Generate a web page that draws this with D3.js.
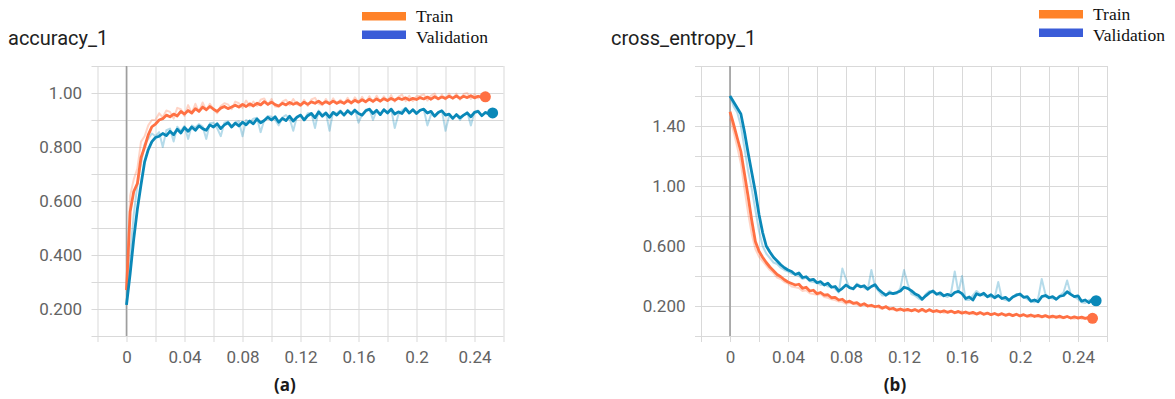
<!DOCTYPE html>
<html>
<head>
<meta charset="utf-8">
<script src="https://cdn.jsdelivr.net/npm/d3@7"></script>
<style>
  html, body { margin: 0; padding: 0; background: #fff; }
  svg { display: block; }
  .tick text { font-family: Roboto, "Open Sans", sans-serif; font-size: 17px; fill: #636363; }
</style>
</head>
<body>
<div id="chart"></div>
<script>
// steps are logged every 0.0025 (x axis)
const STEP = 0.0025;

// (a) accuracy_1
const accTrain = [
  0.27, 0.56, 0.635, 0.665, 0.76, 0.80, 0.845, 0.875, 0.885, 0.90,
  0.905, 0.918, 0.912, 0.922, 0.915, 0.932, 0.922, 0.935, 0.926, 0.942,
  0.932, 0.948, 0.938, 0.95, 0.94, 0.932, 0.944, 0.95, 0.942, 0.948,
  0.955, 0.948, 0.958, 0.95, 0.96, 0.952, 0.962, 0.956, 0.968, 0.958,
  0.966, 0.957, 0.952, 0.962, 0.956, 0.965, 0.958, 0.964, 0.955, 0.966,
  0.958, 0.967, 0.962, 0.97, 0.96, 0.968, 0.961, 0.97, 0.962, 0.968,
  0.962, 0.972, 0.964, 0.973, 0.966, 0.975, 0.968, 0.977, 0.969, 0.978,
  0.97, 0.979, 0.972, 0.98, 0.973, 0.981, 0.976, 0.982, 0.974, 0.98,
  0.976, 0.983, 0.978, 0.985, 0.977, 0.986, 0.979, 0.985, 0.98, 0.988,
  0.981, 0.989, 0.98, 0.988, 0.983, 0.99, 0.982, 0.988, 0.984, 0.986
];
const accTrainRaw = [
  0.27, 0.62, 0.68, 0.72, 0.82, 0.84, 0.88, 0.9, 0.9, 0.925,
  0.91, 0.935, 0.93, 0.905, 0.945, 0.94, 0.915, 0.955, 0.925, 0.96,
  0.93, 0.965, 0.935, 0.96, 0.94, 0.925, 0.952, 0.962, 0.958, 0.94,
  0.968, 0.962, 0.945, 0.972, 0.95, 0.968, 0.952, 0.975, 0.98, 0.955,
  0.978, 0.95, 0.948, 0.968, 0.975, 0.955, 0.978, 0.958, 0.952, 0.975,
  0.952, 0.976, 0.982, 0.96, 0.955, 0.978, 0.958, 0.98, 0.96, 0.975,
  0.96, 0.982, 0.96, 0.984, 0.965, 0.986, 0.964, 0.988, 0.966, 0.99,
  0.968, 0.988, 0.97, 0.992, 0.968, 0.986, 0.994, 0.97, 0.99, 0.97,
  0.988, 0.99, 0.995, 0.972, 0.99, 0.998, 0.975, 0.994, 0.976, 0.998,
  0.978, 0.998, 0.975, 0.996, 1.0, 0.978, 0.996, 0.98, 0.998, 0.99
];
const accVal = [
  0.215, 0.33, 0.46, 0.57, 0.66, 0.745, 0.79, 0.82, 0.835, 0.84,
  0.85, 0.842, 0.858, 0.845, 0.866, 0.852, 0.872, 0.858, 0.874, 0.862,
  0.878, 0.868, 0.862, 0.882, 0.874, 0.886, 0.868, 0.882, 0.89, 0.874,
  0.888, 0.878, 0.892, 0.882, 0.896, 0.886, 0.904, 0.89, 0.898, 0.91,
  0.9, 0.912, 0.892, 0.906, 0.898, 0.914, 0.896, 0.91, 0.918, 0.9,
  0.916, 0.924, 0.908, 0.93, 0.914, 0.926, 0.91, 0.928, 0.918, 0.932,
  0.918, 0.934, 0.922, 0.936, 0.924, 0.918, 0.934, 0.94, 0.924, 0.936,
  0.92, 0.938, 0.926, 0.94, 0.922, 0.93, 0.924, 0.942, 0.926, 0.938,
  0.924, 0.936, 0.94, 0.926, 0.932, 0.914, 0.928, 0.934, 0.918, 0.922,
  0.906, 0.92, 0.908, 0.918, 0.926, 0.912, 0.928, 0.932, 0.916, 0.928,
  0.922, 0.926
];
const accValRaw = [
  0.215, 0.40, 0.55, 0.66, 0.74, 0.81, 0.83, 0.85, 0.84, 0.855,
  0.8, 0.862, 0.868, 0.82, 0.875, 0.86, 0.878, 0.83, 0.88, 0.872,
  0.885, 0.876, 0.83, 0.888, 0.89, 0.87, 0.84, 0.89, 0.895, 0.875,
  0.892, 0.895, 0.84, 0.9, 0.892, 0.905, 0.908, 0.855, 0.9, 0.915,
  0.912, 0.9, 0.88, 0.91, 0.918, 0.905, 0.86, 0.912, 0.92, 0.9,
  0.925, 0.926, 0.87, 0.935, 0.92, 0.928, 0.86, 0.93, 0.925, 0.936,
  0.92, 0.938, 0.925, 0.94, 0.89, 0.92, 0.938, 0.942, 0.9, 0.935,
  0.92, 0.94, 0.93, 0.942, 0.87, 0.92, 0.936, 0.945, 0.925, 0.94,
  0.925, 0.935, 0.94, 0.88, 0.92, 0.915, 0.93, 0.935, 0.86, 0.915,
  0.905, 0.92, 0.9, 0.918, 0.93, 0.88, 0.93, 0.935, 0.915, 0.93,
  0.93, 0.926
];

// (b) cross_entropy_1
const ceTrain = [
  1.495, 1.41, 1.32, 1.23, 1.08, 0.93, 0.77, 0.63, 0.565, 0.525,
  0.49, 0.46, 0.435, 0.41, 0.395, 0.375, 0.36, 0.35, 0.34, 0.345,
  0.318, 0.325, 0.3, 0.305, 0.282, 0.29, 0.272, 0.275, 0.255, 0.258,
  0.24, 0.245, 0.225, 0.232, 0.218, 0.222, 0.205, 0.215, 0.2, 0.205,
  0.195, 0.2, 0.186, 0.195, 0.18, 0.185, 0.172, 0.18, 0.17, 0.178,
  0.168, 0.176, 0.165, 0.178, 0.164, 0.175, 0.163, 0.17, 0.16, 0.168,
  0.158, 0.166, 0.155, 0.164, 0.152, 0.16, 0.15, 0.158, 0.146, 0.156,
  0.145, 0.153, 0.142, 0.15, 0.14, 0.149, 0.138, 0.146, 0.136, 0.145,
  0.134, 0.142, 0.132, 0.14, 0.13, 0.138, 0.128, 0.136, 0.126, 0.133,
  0.124, 0.132, 0.122, 0.13, 0.12, 0.128, 0.119, 0.126, 0.118, 0.124,
  0.118
];
const ceTrainRaw = [
  1.45, 1.36, 1.26, 1.15, 0.98, 0.82, 0.68, 0.58, 0.53, 0.5,
  0.47, 0.44, 0.42, 0.39, 0.38, 0.36, 0.35, 0.33, 0.325, 0.32,
  0.3, 0.305, 0.285, 0.28, 0.275, 0.28, 0.26, 0.255, 0.245, 0.24,
  0.23, 0.228, 0.215, 0.222, 0.212, 0.21, 0.2, 0.212, 0.198, 0.195,
  0.198, 0.19, 0.18, 0.2, 0.178, 0.175, 0.172, 0.17, 0.182, 0.165,
  0.168, 0.178, 0.162, 0.17, 0.16, 0.18, 0.165, 0.158, 0.168, 0.155,
  0.158, 0.166, 0.152, 0.155, 0.165, 0.148, 0.158, 0.145, 0.146, 0.156,
  0.14, 0.152, 0.14, 0.15, 0.138, 0.15, 0.138, 0.148, 0.132, 0.144,
  0.132, 0.142, 0.13, 0.128, 0.14, 0.126, 0.125, 0.135, 0.124, 0.122,
  0.132, 0.12, 0.118, 0.13, 0.118, 0.115, 0.128, 0.114, 0.116, 0.112,
  0.115
];
const ceVal = [
  1.60, 1.56, 1.52, 1.48, 1.36, 1.22, 1.09, 0.96, 0.81, 0.69,
  0.60, 0.56, 0.525, 0.50, 0.475, 0.455, 0.44, 0.43, 0.41, 0.42,
  0.39, 0.395, 0.372, 0.378, 0.355, 0.362, 0.34, 0.352, 0.325, 0.33,
  0.3, 0.318, 0.34, 0.322, 0.315, 0.34, 0.328, 0.335, 0.312, 0.33,
  0.342, 0.31, 0.29, 0.272, 0.288, 0.282, 0.29, 0.3, 0.325, 0.318,
  0.302, 0.282, 0.27, 0.245, 0.268, 0.288, 0.3, 0.278, 0.288, 0.268,
  0.278, 0.268, 0.29, 0.298, 0.282, 0.25, 0.26, 0.24, 0.282, 0.272,
  0.285, 0.262, 0.275, 0.255, 0.27, 0.25, 0.258, 0.238, 0.26, 0.272,
  0.28, 0.258, 0.262, 0.232, 0.24, 0.228, 0.262, 0.27, 0.255, 0.262,
  0.245, 0.265, 0.27, 0.295, 0.278, 0.262, 0.268, 0.232, 0.24, 0.222,
  0.245, 0.235
];
const ceValRaw = [
  1.6, 1.53, 1.49, 1.40, 1.25, 1.1, 0.98, 0.84, 0.7, 0.6,
  0.55, 0.52, 0.49, 0.48, 0.455, 0.44, 0.43, 0.415, 0.41, 0.4,
  0.38, 0.39, 0.365, 0.36, 0.355, 0.34, 0.345, 0.33, 0.33, 0.315,
  0.29, 0.45, 0.38, 0.32, 0.31, 0.35, 0.335, 0.32, 0.31, 0.44,
  0.33, 0.3, 0.27, 0.27, 0.3, 0.28, 0.28, 0.32, 0.44, 0.35,
  0.28, 0.27, 0.25, 0.24, 0.28, 0.3, 0.29, 0.28, 0.27, 0.27,
  0.26, 0.29, 0.43, 0.29, 0.4, 0.24, 0.24, 0.27, 0.3, 0.28,
  0.27, 0.265, 0.26, 0.255, 0.36, 0.25, 0.24, 0.235, 0.26, 0.28,
  0.27, 0.26, 0.245, 0.23, 0.225, 0.25, 0.38, 0.28, 0.26, 0.25,
  0.245, 0.27, 0.29, 0.37, 0.28, 0.26, 0.245, 0.225, 0.22, 0.24,
  0.245, 0.23
];

// axis ticks and labels
const xGrid = [-0.02, 0, 0.02, 0.04, 0.06, 0.08, 0.10, 0.12, 0.14, 0.16, 0.18, 0.20, 0.22, 0.24, 0.26];
const xLabels = [0, 0.04, 0.08, 0.12, 0.16, 0.2, 0.24];
const accGrid = [0.1, 0.2, 0.3, 0.4, 0.5, 0.6, 0.7, 0.8, 0.9, 1.0, 1.1];
const accLabels = [0.2, 0.4, 0.6, 0.8, 1.0];
const ceGrid = [0, 0.2, 0.4, 0.6, 0.8, 1.0, 1.2, 1.4, 1.6, 1.8];
const ceLabels = [0.2, 0.6, 1.0, 1.4];
const seriesNames = ["Train", "Validation"];

const W = 1175, H = 399;
const lineColors = { Train: "#ff7043", Validation: "#0a88b8" };
const legendColors = { Train: "#ff8228", Validation: "#3a5cd8" };

const svg = d3.select("#chart").append("svg")
  .attr("width", W).attr("height", H)
  .style("background", "#fff");

function drawPanel(cfg) {
  const w = 406, h = 270;
  const g = svg.append("g").attr("transform", `translate(${cfg.left},66)`);

  const x = d3.scaleLinear().domain([-0.02, 0.26]).range([0, w]);
  const y = d3.scaleLinear().domain(cfg.yDomain).range([h, 0]);
  const near = (v, arr) => arr.some(a => Math.abs(a - v) < 1e-9);

  // horizontal grid + y labels
  const yAxis = g.append("g").attr("transform", "translate(-6,0)")
    .call(d3.axisLeft(y).tickValues(cfg.yGrid).tickSize(-(w + 6)).tickPadding(9.5)
      .tickFormat(d => near(d, cfg.yLabels) ? d3.format(".3r")(d) : ""));
  yAxis.select(".domain").remove();
  yAxis.selectAll("line").attr("stroke", "#d9d9d9");

  // vertical grid + x labels
  const xAxis = g.append("g").attr("transform", `translate(0,${h + 6})`)
    .call(d3.axisBottom(x).tickValues(xGrid).tickSize(-(h + 6)).tickPadding(9)
      .tickFormat(d => near(d, xLabels) ? d3.format(".2~f")(d) : ""));
  xAxis.select(".domain").remove();
  xAxis.selectAll("line").attr("stroke", "#d9d9d9");

  // zero line
  g.append("line")
    .attr("x1", x(0)).attr("x2", x(0)).attr("y1", 0).attr("y2", h)
    .attr("stroke", "#9e9e9e").attr("stroke-width", 1.6);

  const line = d3.line().x((d, i) => x(i * STEP)).y(d => y(d));

  cfg.series.forEach(s => {
    g.append("path").datum(s.raw)
      .attr("fill", "none").attr("stroke", lineColors[s.name])
      .attr("stroke-opacity", 0.3).attr("stroke-width", 2)
      .attr("stroke-linejoin", "round").attr("d", line);
  });
  cfg.series.forEach(s => {
    g.append("path").datum(s.smooth)
      .attr("fill", "none").attr("stroke", lineColors[s.name])
      .attr("stroke-width", 2.8).attr("stroke-linejoin", "round").attr("d", line);
    const last = s.smooth.length - 1;
    g.append("circle")
      .attr("cx", x(last * STEP)).attr("cy", y(s.smooth[last]))
      .attr("r", 5.5).attr("fill", lineColors[s.name]);
  });

  // title
  svg.append("text")
    .attr("x", cfg.titleX).attr("y", 45)
    .style("font-family", "Roboto, sans-serif").style("font-size", "20px")
    .style("fill", "#212121").text(cfg.title);

  // legend
  seriesNames.forEach((name, i) => {
    const ly = cfg.legendY + i * 18.5;
    svg.append("rect")
      .attr("x", cfg.legendX).attr("y", ly).attr("width", 44).attr("height", 8.5)
      .attr("fill", legendColors[name]);
    svg.append("text")
      .attr("x", cfg.legendX + 54).attr("y", ly + 9.5 + i * 3)
      .style("font-family", "'Liberation Serif', 'Times New Roman', serif")
      .style("font-size", "17.5px").style("fill", "#111").text(name);
  });

  // caption
  svg.append("text")
    .attr("x", cfg.captionX).attr("y", 391).attr("text-anchor", "middle")
    .style("font-family", "'Open Sans', sans-serif").style("font-weight", 700)
    .style("font-size", "17px").style("fill", "#1a1a1a").text(cfg.caption);
}

drawPanel({
  left: 97.5, yDomain: [0.1, 1.1], yGrid: accGrid, yLabels: accLabels,
  title: "accuracy_1", titleX: 8, legendX: 362, legendY: 12, captionX: 285, caption: "(a)",
  series: [
    { name: "Train", smooth: accTrain, raw: accTrainRaw },
    { name: "Validation", smooth: accVal, raw: accValRaw }
  ]
});

drawPanel({
  left: 701, yDomain: [0, 1.8], yGrid: ceGrid, yLabels: ceLabels,
  title: "cross_entropy_1", titleX: 611, legendX: 1039, legendY: 10, captionX: 895, caption: "(b)",
  series: [
    { name: "Train", smooth: ceTrain, raw: ceTrainRaw },
    { name: "Validation", smooth: ceVal, raw: ceValRaw }
  ]
});
</script>
</body>
</html>
